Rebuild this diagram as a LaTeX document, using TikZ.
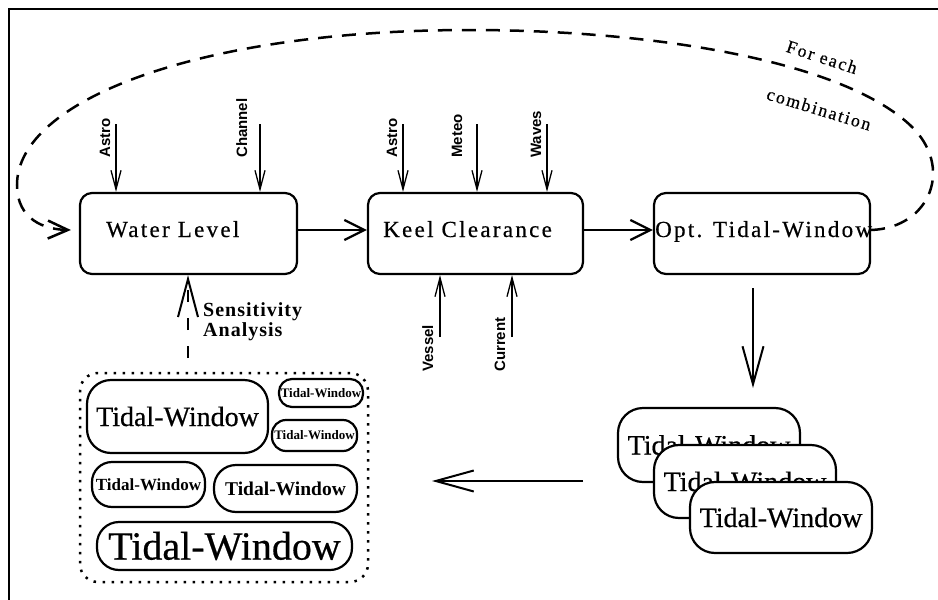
\documentclass[tikz,border=0pt]{standalone}
\usepackage{fontspec}
\setmainfont[UprightFeatures={FakeBold=0.5}]{Liberation Serif}
\newfontfamily\spacedserif[LetterSpace=10,UprightFeatures={FakeBold=0.5}]{Liberation Serif}
\newfontfamily\spacedbold[LetterSpace=5]{Liberation Serif}
\newfontfamily\lblsans{Liberation Sans}
\usetikzlibrary{arrows.meta}
\begin{document}
\begin{tikzpicture}[x=1pt,y=-1pt,
  mainbox/.style={draw, line width=2.2pt, rounded corners=12pt, minimum height=81pt, inner sep=0pt},
  boxtitle/.style={anchor=base west, inner sep=0pt, font=\spacedserif\fontsize{23}{27}\selectfont},
  sidelabel/.style={rotate=90, anchor=base west, inner sep=0pt, font=\lblsans\bfseries\fontsize{15}{18}\selectfont},
  inarrow/.style={line width=1.3pt, -{Straight Barb[length=19pt,width=10pt]}},
  mainarrow/.style={line width=2.3pt, -{Straight Barb[length=20pt,width=20pt]}},
  bigarrow/.style={line width=2pt, -{Straight Barb[length=38pt,width=21pt]}},
  sensarrow/.style={line width=2pt, dash pattern=on 12pt off 16pt, -{Straight Barb[length=38pt,width=20pt]}},
  looparrow/.style={line width=2.5pt, dash pattern=on 14pt off 10pt, -{Straight Barb[length=20pt,width=18pt]}},
  looplabel/.style={rotate=-18, inner sep=0pt, font=\spacedserif\fontsize{18}{22}\selectfont},
  twbox/.style={draw, line width=2.2pt, fill=white, inner sep=0pt},
  stackbox/.style={twbox, rounded corners=25pt, minimum width=182pt, font=\fontsize{28}{32}\selectfont},
  dotbox/.style={draw, line width=2.5pt, dash pattern=on 2.5pt off 6.5pt, rounded corners=18pt, inner sep=0pt}
]
\useasboundingbox (0,0) rectangle (938,600);
% frame
\draw[line width=2pt] (9,600) -- (9,9) -- (938,9);

% main boxes
\node[mainbox, minimum width=217pt] (wl) at (188.5,233.5) {};
\node[mainbox, minimum width=215pt] (kc) at (475.5,233.5) {};
\node[mainbox, minimum width=216pt] (opt) at (762,233.5) {};
\node[boxtitle] (wlt) at (106,237) {Water Level};
\node[boxtitle] (kct) at (383,237) {Keel Clearance};
\node[boxtitle] (optt) at (655,237) {Opt. Tidal-Window};

% main arrows
\draw[mainarrow] ([yshift=3.5pt]wl.east) -- ([yshift=3.5pt]kc.west);
\draw[mainarrow] ([yshift=3.5pt]kc.east) -- ([yshift=3.5pt]opt.west);

% inputs to water level
\coordinate (wa) at (116,124);
\draw[inarrow] (wa) -- (wa |- wl.north);
\node[sidelabel] (wal) at (110,158) {Astro};
\coordinate (wc) at (260,124);
\draw[inarrow] (wc) -- (wc |- wl.north);
\node[sidelabel] (wcl) at (247,158) {Channel};

% inputs to keel clearance
\coordinate (ka) at (403,124);
\draw[inarrow] (ka) -- (ka |- kc.north);
\node[sidelabel] (kal) at (397,158) {Astro};
\coordinate (km) at (477,124);
\draw[inarrow] (km) -- (km |- kc.north);
\node[sidelabel] (kml) at (462,158) {Meteo};
\coordinate (kw) at (547,124);
\draw[inarrow] (kw) -- (kw |- kc.north);
\node[sidelabel] (kwl) at (541,158) {Waves};
\coordinate (kv) at (440,337);
\draw[inarrow] (kv) -- (kv |- kc.south);
\node[sidelabel] (kvl) at (433,372) {Vessel};
\coordinate (kcu) at (512,337);
\draw[inarrow] (kcu) -- (kcu |- kc.south);
\node[sidelabel] (kcul) at (505,372) {Current};

% loop
\draw[looparrow] ([yshift=3.5pt]opt.east) .. controls (930,228) and (955,167) .. (910,125)
  .. controls (840,60) and (650,30) .. (470,30)
  .. controls (200,30) and (17,100) .. (17,185)
  .. controls (17,220) and (45,229.5) .. ([xshift=-8pt,yshift=3.5pt]wl.west);
\node[looplabel] (fe) at (822,57) {For each};
\node[looplabel, rotate=1] (cb) at (819,109) {combination};

% sensitivity analysis
\coordinate (s0) at (188,358);
\draw[sensarrow] (s0) -- (s0 |- wl.south);
\node[anchor=north west, inner sep=0pt, align=left, font=\spacedbold\bfseries\fontsize{20}{20}\selectfont] (sal) at (203,302) {Sensitivity\\Analysis};

% down arrow
\coordinate (d0) at (753,288);
\coordinate (d1) at (753,388);
\draw[bigarrow] (d0) -- (d1);

% stack
\node[stackbox, minimum height=74pt] (tw1) at (709,445) {Tidal-Window};
\node[stackbox, minimum height=73pt] (tw2) at (745,481.5) {Tidal-Window};
\node[stackbox, minimum height=71pt] (tw3) at (781,517.5) {Tidal-Window};

% left arrow
\coordinate (l0) at (583,481);
\coordinate (l1) at (432,481);
\draw[bigarrow] (l0) -- (l1);

% container
\node[dotbox, minimum width=288pt, minimum height=209pt] (cont) at (224,477.5) {};
\node[twbox, rounded corners=24pt, minimum width=181pt, minimum height=73pt, font=\fontsize{28}{32}\selectfont] (in1) at (177.5,416.5) {Tidal-Window};
\node[twbox, rounded corners=13pt, minimum width=84pt, minimum height=28pt, font=\bfseries\fontsize{13}{15}\selectfont] (in2) at (321,393) {Tidal-Window};
\node[twbox, rounded corners=14pt, minimum width=85pt, minimum height=31pt, font=\bfseries\fontsize{13}{15}\selectfont] (in3) at (314.5,435.5) {Tidal-Window};
\node[twbox, rounded corners=20pt, minimum width=113pt, minimum height=45pt, font=\bfseries\fontsize{17}{20}\selectfont] (in4) at (148.5,484.5) {Tidal-Window};
\node[twbox, rounded corners=22pt, minimum width=143pt, minimum height=47pt, font=\bfseries\fontsize{19.5}{22}\selectfont] (in5) at (285.5,488.5) {Tidal-Window};
\node[twbox, rounded corners=22pt, minimum width=255pt, minimum height=48pt, font=\fontsize{40}{44}\selectfont] (in6) at (224.5,546) {Tidal-Window};
\end{tikzpicture}
\end{document}
